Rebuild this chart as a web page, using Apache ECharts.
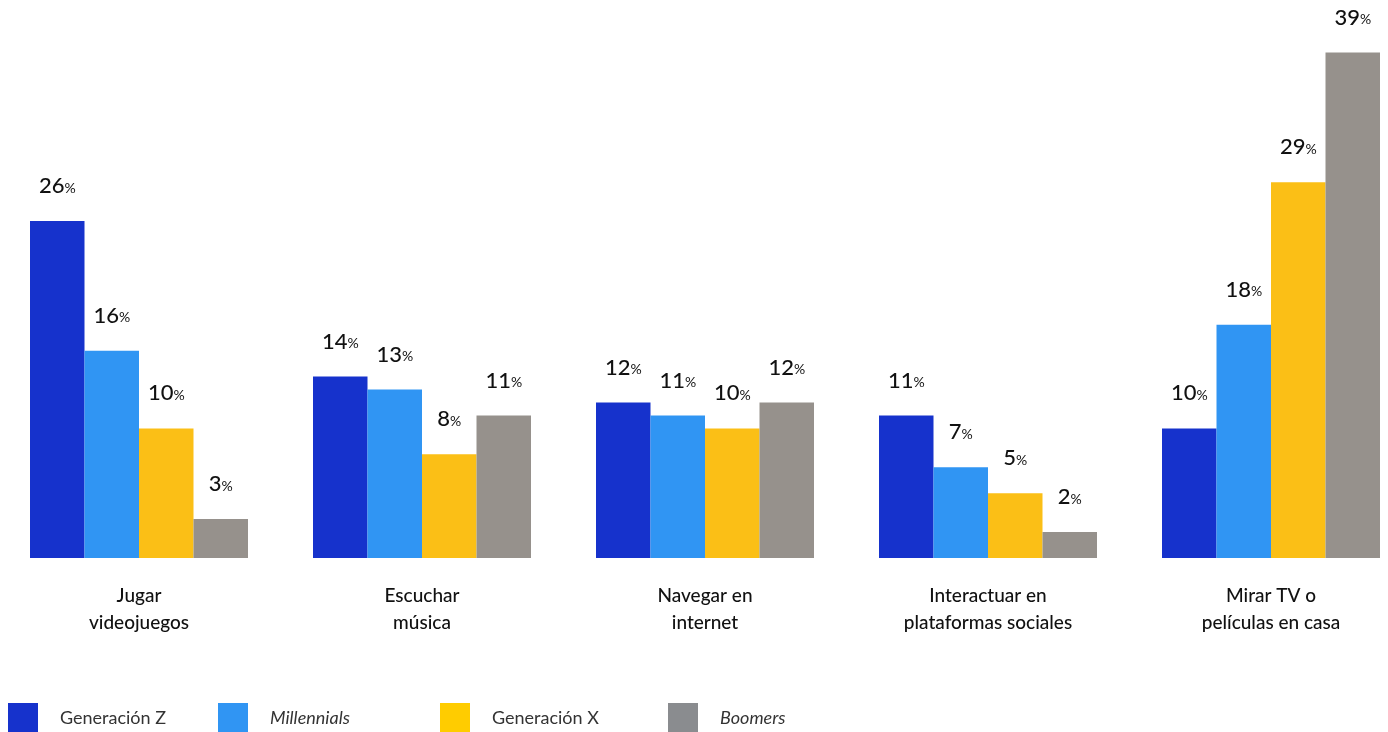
<!DOCTYPE html>
<html>
<head>
<meta charset="utf-8">
<script src="https://cdn.jsdelivr.net/npm/echarts@6/dist/echarts.min.js"></script>
<style>
  html, body { margin: 0; padding: 0; background: #fff; }
  #chart { width: 1388px; height: 732px; }
</style>
</head>
<body>
<div id="chart"></div>
<script>
  // actividades (eje x)
  const categories = [
    'Jugar\nvideojuegos',
    'Escuchar\nmúsica',
    'Navegar en\ninternet',
    'Interactuar en\nplataformas sociales',
    'Mirar TV o\npelículas en casa'
  ]
  const seriesNames = ['Generación Z', 'Millennials', 'Generación X', 'Boomers']
  const genZ = [26, 14, 12, 11, 10]
  const millennials = [16, 13, 11, 7, 18]
  const genX = [10, 8, 10, 5, 29]
  const boomers = [3, 11, 12, 2, 39]

  const colors = ['#1632cc', '#3095f3', '#fbbf16', '#96918c']
  const legendColors = ['#1632cc', '#3095f3', '#ffcc00', '#8a8c8f']
  const legendLeft = [8, 218, 440, 668]
  const font = 'Lato, "Noto Sans", sans-serif'

  const chart = echarts.init(document.getElementById('chart'))

  let seriesAll = [genZ, millennials, genX, boomers].map((data, i) => {
    return {
      name: seriesNames[i],
      type: 'bar',
      data: data,
      barWidth: 54.5,
      barGap: 0,
      itemStyle: {color: colors[i]},
      label: {
        show: true,
        position: 'top',
        distance: 24,
        formatter: '{n|{c}}{p|%}',
        rich: {
          n: {fontSize: 22, color: '#111', fontFamily: font, fontWeight: 500},
          p: {fontSize: 14, color: '#111', fontFamily: font, padding: [4, 0, 0, 0]}
        }
      }
    }
  })

  // una leyenda por serie, para respetar el espaciado irregular
  let legends = seriesNames.map((name, i) => {
    return {
      left: legendLeft[i],
      top: 703,
      padding: 0,
      icon: 'rect',
      itemWidth: 30,
      itemHeight: 30,
      itemGap: 0,
      selectedMode: false,
      data: [{name: name, itemStyle: {color: legendColors[i]}}],
      textStyle: {
        fontSize: 18,
        color: '#333',
        fontFamily: font,
        fontStyle: (i % 2 === 1) ? 'italic' : 'normal',
        padding: [0, 0, 0, 17]
      }
    }
  })

  const option = {
    animation: false,
    legend: legends,
    grid: {
      left: -2.5,
      width: 1415,
      bottom: 174,
      height: 518.4,
      outerBoundsMode: 'none'
    },
    xAxis: {
      type: 'category',
      data: categories,
      axisLine: {show: false},
      axisTick: {show: false},
      axisLabel: {
        margin: 24,
        fontSize: 19,
        lineHeight: 27,
        color: '#111',
        fontFamily: font,
        fontWeight: 500
      }
    },
    yAxis: {
      type: 'value',
      min: 0,
      max: 40,
      show: false
    },
    series: seriesAll
  }
  chart.setOption(option)
</script>
</body>
</html>
